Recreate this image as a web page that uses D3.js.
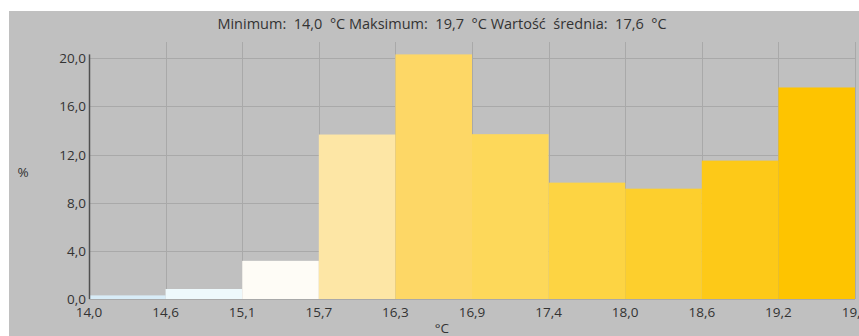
<!DOCTYPE html>
<html>
<head>
<meta charset="utf-8">
<script src="https://cdn.jsdelivr.net/npm/d3@7"></script>
<style>
  html, body { margin: 0; padding: 0; background: #ffffff; }
  svg { display: block; }
  text { font-family: "Open Sans", "Noto Sans", sans-serif; fill: #333333; }
</style>
</head>
<body>
<svg id="chart" width="859" height="336"></svg>
<script>
// ---- data ----
const binEdges = [14.0, 14.6, 15.1, 15.7, 16.3, 16.9, 17.4, 18.0, 18.6, 19.2, 19.7];
const tickLabels = ["14,0", "14,6", "15,1", "15,7", "16,3", "16,9", "17,4", "18,0", "18,6", "19,2", "19,7"];
const percentValues = [0.3, 0.83, 3.17, 13.67, 20.33, 13.7, 9.67, 9.17, 11.5, 17.58];
const binColors = ["#d8ecf7", "#eef9fc", "#fefcf6", "#fde6a5", "#fdd766", "#fdd85a", "#fdd443", "#fdcf2d", "#fdc918", "#fec400"];
const yTicks = [0, 4, 8, 12, 16, 20];
const titleText = "Minimum:  14,0  °C Maksimum:  19,7  °C Wartość  średnia:  17,6  °C";
const xTitle = "°C";
const yTitle = "%";

// ---- layout ----
const svg = d3.select("#chart");
const W = 859, H = 336;
const plot = { left: 89, right: 855, top: 42, bottom: 299 };

svg.append("rect").attr("x", 9).attr("y", 11).attr("width", W - 9).attr("height", H - 11).attr("fill", "#c0c0c0");

const x = d3.scaleLinear().domain([0, binEdges.length - 1]).range([plot.left, plot.right]);
const y = d3.scaleLinear().domain([0, 21.36]).range([plot.bottom, plot.top]);

// gridlines
const grid = svg.append("g").attr("stroke", "#a9a9a9").attr("stroke-width", 1);
grid.selectAll("line.v").data(d3.range(1, binEdges.length)).join("line")
  .attr("x1", d => Math.round(x(d)) + 0.5).attr("x2", d => Math.round(x(d)) + 0.5)
  .attr("y1", plot.top).attr("y2", plot.bottom);
grid.selectAll("line.h").data(yTicks).join("line")
  .attr("x1", plot.left).attr("x2", plot.right)
  .attr("y1", d => Math.round(y(d)) + 0.5).attr("y2", d => Math.round(y(d)) + 0.5);

// bars
svg.append("g").selectAll("rect").data(percentValues).join("rect")
  .attr("x", (d, i) => x(i))
  .attr("width", (d, i) => x(i + 1) - x(i))
  .attr("y", d => y(d))
  .attr("height", d => y(0) - y(d))
  .attr("fill", (d, i) => binColors[i]);

// y axis line
const yMax = d3.max(percentValues);
svg.append("line").attr("x1", plot.left + 0.5).attr("x2", plot.left + 0.5)
  .attr("y1", y(0)).attr("y2", y(yMax))
  .attr("stroke", "#505050").attr("stroke-width", 1.5);

// y tick labels
svg.append("g").selectAll("text").data(yTicks).join("text")
  .attr("x", 86).attr("y", d => y(d) + 5)
  .attr("text-anchor", "end").attr("font-size", 13.5)
  .text(d => d3.format(".1f")(d).replace(".", ","));

// x tick labels
svg.append("g").selectAll("text").data(tickLabels).join("text")
  .attr("x", (d, i) => x(i)).attr("y", 317)
  .attr("text-anchor", "middle").attr("font-size", 13.5)
  .text(d => d);

// titles
svg.append("text").attr("x", 442).attr("y", 29).attr("text-anchor", "middle")
  .attr("font-size", 14.5).attr("xml:space", "preserve").style("white-space", "pre").text(titleText);
svg.append("text").attr("x", 442).attr("y", 333).attr("text-anchor", "middle")
  .attr("font-size", 13.5).text(xTitle);
svg.append("text").attr("x", 23).attr("y", 177).attr("text-anchor", "middle")
  .attr("font-size", 13.5).text(yTitle);
</script>
</body>
</html>
